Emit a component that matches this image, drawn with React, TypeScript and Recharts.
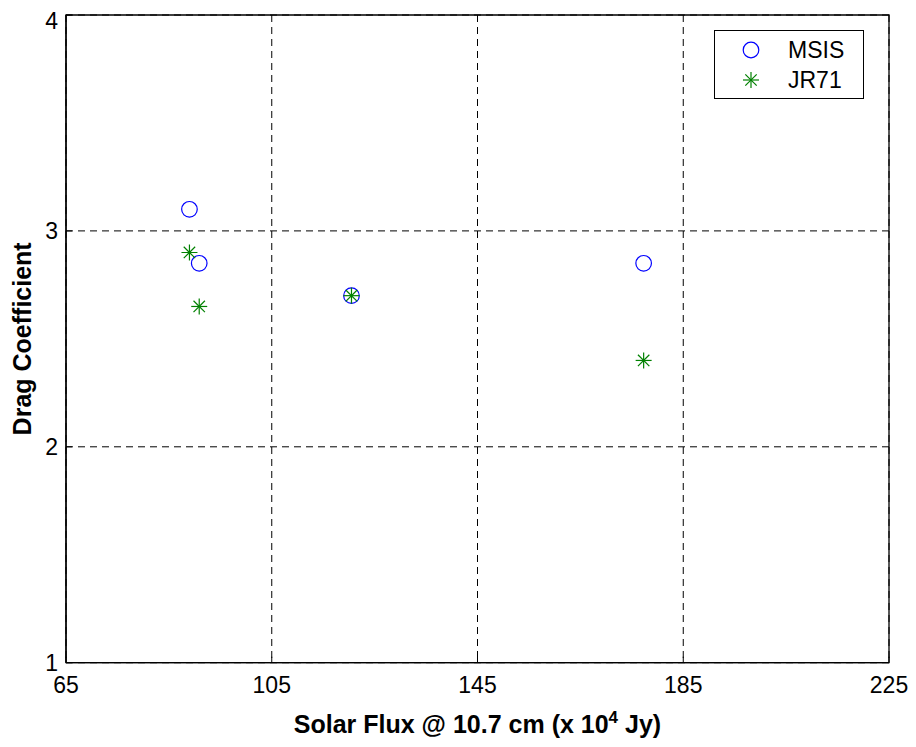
import React from 'react';
import { ScatterChart, Scatter, XAxis, YAxis, CartesianGrid, ReferenceArea } from 'recharts';

const xTicks = [65, 105, 145, 185, 225];
const yTicks = [1, 2, 3, 4];
const msisFlux = [89.0, 90.9, 120.5, 177.3];
const msisCd = [3.1, 2.85, 2.7, 2.85];
const jrFlux = [89.0, 90.9, 120.5, 177.3];
const jrCd = [2.9, 2.65, 2.7, 2.4];
const seriesNames = ['MSIS', 'JR71'];

const msisData = msisFlux.map((x, i) => ({ x, y: msisCd[i] }));
const jrData = jrFlux.map((x, i) => ({ x, y: jrCd[i] }));

const FONT = '"Liberation Sans", Arial, Helvetica, sans-serif';

const Circle = (props: any) => {
  const { cx, cy } = props;
  if (cx == null || cy == null) return <g />;
  return <circle cx={cx} cy={cy} r={7.8} fill="none" stroke="#0000ff" strokeWidth={1.2} />;
};

const Star = (props: any) => {
  const { cx, cy } = props;
  if (cx == null || cy == null) return <g />;
  const r = 8;
  const d = 5.7;
  return (
    <g stroke="#008000" strokeWidth={1.2}>
      <line x1={cx - r} y1={cy} x2={cx + r} y2={cy} />
      <line x1={cx} y1={cy - r} x2={cx} y2={cy + r} />
      <line x1={cx - d} y1={cy - d} x2={cx + d} y2={cy + d} />
      <line x1={cx - d} y1={cy + d} x2={cx + d} y2={cy - d} />
    </g>
  );
};

const LegendBox = () => (
  <div
    style={{
      position: 'absolute',
      left: 706,
      top: 22,
      width: 148,
      height: 67,
      border: '1px solid #000',
      background: '#fff',
    }}
  >
    <svg width={148} height={67} style={{ position: 'absolute', left: 0, top: 0 }}>
      <Circle cx={36} cy={19} />
      <Star cx={36} cy={49} />
      <text x={73} y={27} fontFamily={FONT} fontSize={23} fill="#000">{seriesNames[0]}</text>
      <text x={73} y={57} fontFamily={FONT} fontSize={23} fill="#000">{seriesNames[1]}</text>
    </svg>
  </div>
);

const YLabel = (props: any) => {
  const vb = props.viewBox || {};
  const cx = 14.5;
  const cy = (vb.y ?? 7) + (vb.height ?? 648) / 2;
  return (
    <text
      x={cx}
      y={cy}
      transform={`rotate(-90, ${cx}, ${cy})`}
      textAnchor="middle"
      dominantBaseline="central"
      fontFamily={FONT}
      fontWeight="bold"
      fontSize={25}
      fill="#000"
    >
      Drag Coefficient
    </text>
  );
};

const XLabel = (props: any) => {
  const vb = props.viewBox || {};
  const cx = (vb.x ?? 58) + (vb.width ?? 823) / 2;
  const y = 724.5;
  return (
    <text x={cx} y={y} textAnchor="middle" fontFamily={FONT} fontWeight="bold" fontSize={25} fill="#000">
      Solar Flux @ 10.7 cm (x 10
      <tspan dy={-10} fontSize={17}>4</tspan>
      <tspan dy={10}> Jy)</tspan>
    </text>
  );
};

export default function App() {
  return (
    <div style={{ width: 900, height: 739, background: '#fff', position: 'relative' }}>
      <ScatterChart width={900} height={739} margin={{ top: 7, right: 19, left: 0, bottom: 24.3 }}>
        <CartesianGrid xAxisId="b" yAxisId="l" stroke="#000" strokeDasharray="7 5" strokeWidth={1} />
        <XAxis
          type="number"
          dataKey="x"
          xAxisId="b"
          domain={[65, 225]}
          ticks={xTicks}
          allowDataOverflow
          height={60}
          axisLine={{ stroke: '#000', strokeWidth: 1.3 }}
          tickLine={{ stroke: '#000' }}
          tickSize={-6}
          tickMargin={20}
          tick={{ fill: '#000', fontSize: 23, fontFamily: FONT }}
          label={<XLabel />}
        />
        <YAxis
          type="number"
          dataKey="y"
          yAxisId="l"
          domain={[1, 4]}
          ticks={yTicks}
          allowDataOverflow
          width={58}
          axisLine={{ stroke: '#000', strokeWidth: 1.3 }}
          tickLine={{ stroke: '#000' }}
          tickSize={-6}
          tickMargin={14}
          tick={{ fill: '#000', fontSize: 23, fontFamily: FONT }}
          label={<YLabel />}
        />
        <ReferenceArea
          xAxisId="b"
          yAxisId="l"
          x1={65}
          x2={225}
          y1={1}
          y2={4}
          fill="none"
          fillOpacity={0}
          stroke="#000"
          strokeWidth={1.3}
          ifOverflow="visible"
        />
        <Scatter name={seriesNames[0]} data={msisData} xAxisId="b" yAxisId="l" shape={<Circle />} isAnimationActive={false} />
        <Scatter name={seriesNames[1]} data={jrData} xAxisId="b" yAxisId="l" shape={<Star />} isAnimationActive={false} />
      </ScatterChart>
      <LegendBox />
    </div>
  );
}
